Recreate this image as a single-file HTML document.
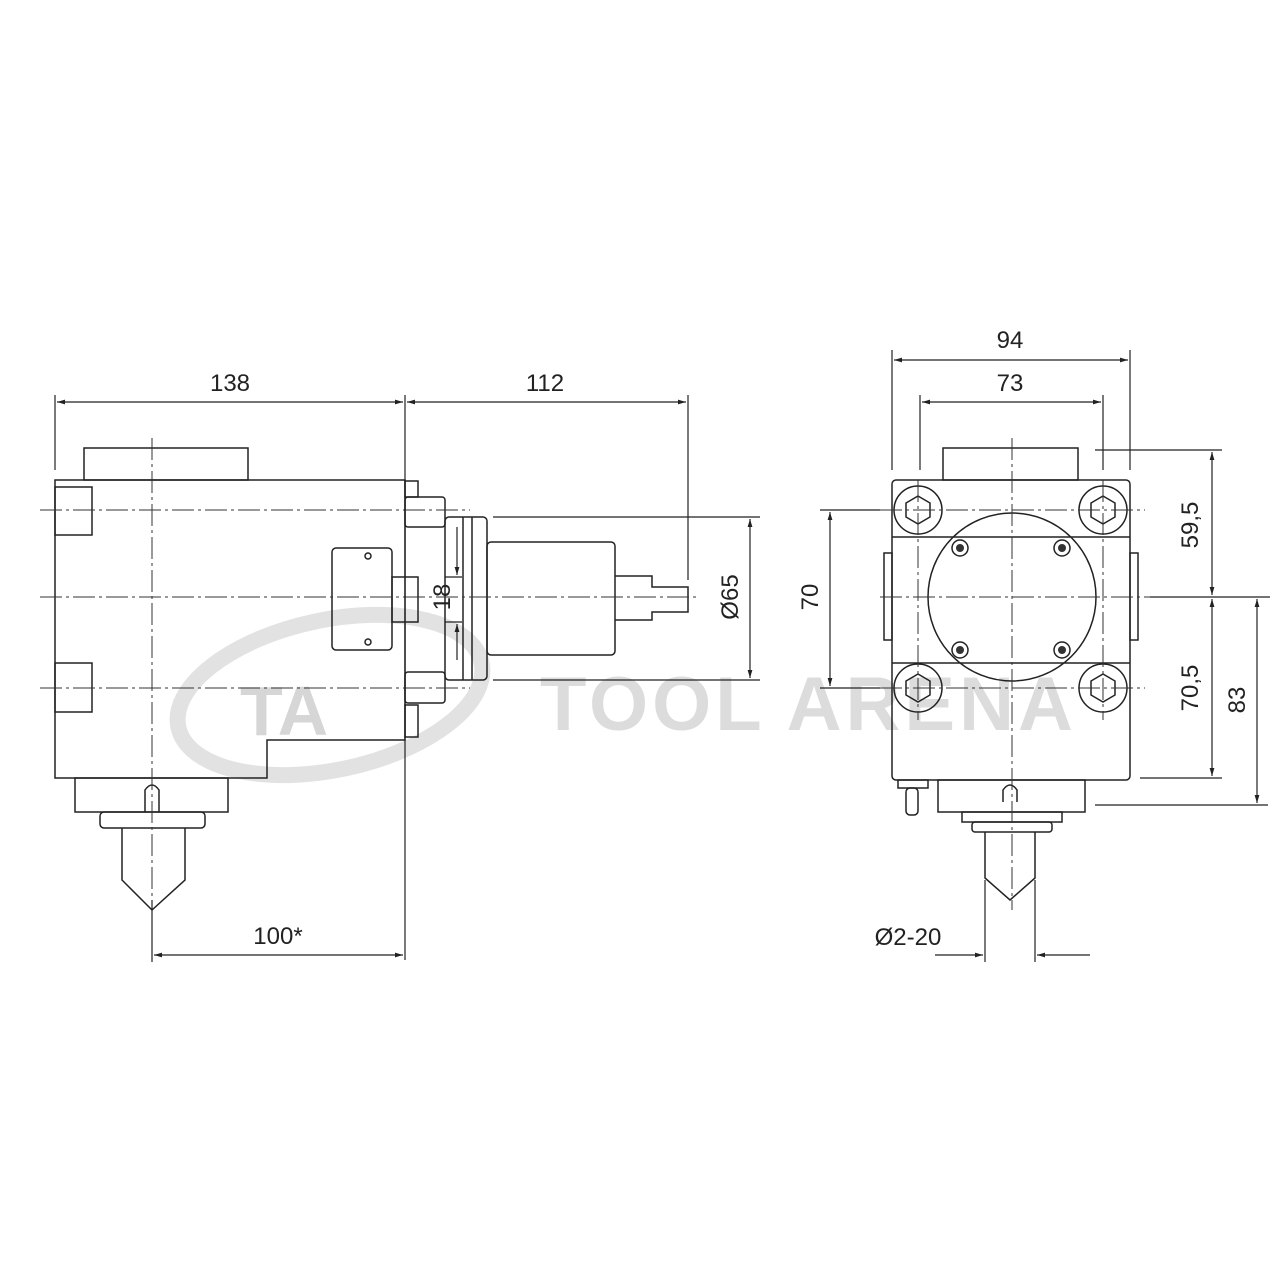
<!DOCTYPE html>
<html><head><style>body{margin:0;background:#fff}svg{display:block}</style></head><body>
<svg width="1280" height="1280" viewBox="0 0 1280 1280" xmlns="http://www.w3.org/2000/svg" font-family="Liberation Sans, sans-serif">
<defs>
<marker id="a" viewBox="0 0 10 10" refX="10" refY="5" markerWidth="12" markerHeight="8" orient="auto-start-reverse" markerUnits="userSpaceOnUse"><path d="M0,2 L10,5 L0,8z" fill="#222"/></marker>
</defs>
<!-- watermark -->
<g>
<ellipse cx="330" cy="695" rx="155" ry="75" fill="none" stroke="#e2e2e2" stroke-width="16" transform="rotate(-12 330 695)"/>
<text x="240" y="735" font-size="70" font-weight="bold" fill="#d6d6d6">TA</text>
<text x="540" y="730" font-size="76" font-weight="bold" fill="#dcdcdc" letter-spacing="4">TOOL ARENA</text>
</g>
<g fill="none" stroke="#222" stroke-width="1.5">
<!-- LEFT VIEW -->
<rect x="84" y="448" width="164" height="32"/>
<path d="M55,480 H405 V740 H267 V778 H55 Z"/>
<rect x="55" y="487" width="37" height="48"/><rect x="55" y="663" width="37" height="49"/>
<rect x="405" y="481" width="13" height="16"/><rect x="405" y="497" width="40" height="30" rx="3"/>
<rect x="405" y="672" width="40" height="31" rx="3"/><rect x="405" y="705" width="13" height="32"/>
<rect x="332" y="548" width="60" height="102" rx="4"/><rect x="392" y="577" width="26" height="45"/>
<circle cx="368" cy="556" r="3"/><circle cx="368" cy="642" r="3"/>
<rect x="445" y="517" width="42" height="163" rx="4"/><line x1="463" y1="517" x2="463" y2="680"/><line x1="472" y1="517" x2="472" y2="680"/>
<rect x="487" y="542" width="128" height="113" rx="4"/>
<path d="M615,576 H652 V587 H688 V612 H652 V620 H615"/>
<rect x="75" y="778" width="153" height="34"/><rect x="100" y="812" width="105" height="16" rx="4"/>
<path d="M122,828 V880 L152,910 L185,880 V828"/>
<path d="M145,812 V790 Q152,780 159,790 V812"/>
<!-- RIGHT VIEW -->
<rect x="943" y="448" width="135" height="32"/>
<rect x="892" y="480" width="238" height="300" rx="4"/>
<rect x="884" y="553" width="8" height="87"/><rect x="1130" y="553" width="8" height="87"/>
<line x1="892" y1="537" x2="1130" y2="537"/><line x1="892" y1="663" x2="1130" y2="663"/>
<circle cx="918" cy="510" r="24"/><circle cx="1103" cy="510" r="24"/><circle cx="918" cy="688" r="24"/><circle cx="1103" cy="688" r="24"/>
<path d="M918,496 l12,7 v14 l-12,7 l-12,-7 v-14z"/><path d="M1103,496 l12,7 v14 l-12,7 l-12,-7 v-14z"/>
<path d="M918,674 l12,7 v14 l-12,7 l-12,-7 v-14z"/><path d="M1103,674 l12,7 v14 l-12,7 l-12,-7 v-14z"/>
<circle cx="1012" cy="597" r="84"/>
<circle cx="960" cy="548" r="8"/><circle cx="1062" cy="548" r="8"/><circle cx="960" cy="650" r="8"/><circle cx="1062" cy="650" r="8"/>
<rect x="938" y="780" width="147" height="32"/><rect x="962" y="812" width="100" height="10"/><rect x="972" y="822" width="80" height="10" rx="3"/>
<path d="M985,832 V878 L1010,900 L1035,878 V832"/>
<path d="M1003,802 V790 Q1010,780 1017,790 V802"/>
<rect x="898" y="780" width="30" height="8"/><rect x="906" y="788" width="12" height="27" rx="4"/>
</g>
<g fill="#333"><circle cx="960" cy="548" r="4"/><circle cx="1062" cy="548" r="4"/><circle cx="960" cy="650" r="4"/><circle cx="1062" cy="650" r="4"/></g>
<!-- centerlines -->
<g stroke="#333" stroke-width="1" stroke-dasharray="22,4,3,4" fill="none">
<line x1="40" y1="510" x2="470" y2="510"/><line x1="40" y1="597" x2="700" y2="597"/><line x1="40" y1="688" x2="470" y2="688"/>
<line x1="152" y1="438" x2="152" y2="920"/>
<line x1="1012" y1="438" x2="1012" y2="910"/>
<line x1="880" y1="597" x2="1150" y2="597"/><line x1="880" y1="510" x2="1145" y2="510"/><line x1="880" y1="688" x2="1145" y2="688"/>
<line x1="918" y1="480" x2="918" y2="720"/><line x1="1103" y1="480" x2="1103" y2="720"/>
</g>
<!-- dimensions -->
<g stroke="#222" stroke-width="1.2" fill="none">
<line x1="55" y1="395" x2="55" y2="470"/><line x1="405" y1="395" x2="405" y2="960"/><line x1="688" y1="395" x2="688" y2="580"/>
<line x1="57" y1="402" x2="403" y2="402" marker-start="url(#a)" marker-end="url(#a)"/>
<line x1="407" y1="402" x2="686" y2="402" marker-start="url(#a)" marker-end="url(#a)"/>
<line x1="493" y1="517" x2="760" y2="517"/><line x1="493" y1="680" x2="760" y2="680"/>
<line x1="750" y1="519" x2="750" y2="678" marker-start="url(#a)" marker-end="url(#a)"/>
<line x1="445" y1="577" x2="462" y2="577"/><line x1="445" y1="622" x2="462" y2="622"/>
<line x1="457" y1="527" x2="457" y2="575" marker-end="url(#a)"/><line x1="457" y1="660" x2="457" y2="624" marker-end="url(#a)"/>
<line x1="152" y1="900" x2="152" y2="962"/>
<line x1="154" y1="955" x2="403" y2="955" marker-start="url(#a)" marker-end="url(#a)"/>
<line x1="892" y1="350" x2="892" y2="470"/><line x1="1130" y1="350" x2="1130" y2="470"/>
<line x1="920" y1="395" x2="920" y2="470"/><line x1="1103" y1="395" x2="1103" y2="470"/>
<line x1="894" y1="360" x2="1128" y2="360" marker-start="url(#a)" marker-end="url(#a)"/>
<line x1="922" y1="402" x2="1101" y2="402" marker-start="url(#a)" marker-end="url(#a)"/>
<line x1="820" y1="510" x2="880" y2="510"/><line x1="820" y1="688" x2="880" y2="688"/>
<line x1="830" y1="512" x2="830" y2="686" marker-start="url(#a)" marker-end="url(#a)"/>
<line x1="1095" y1="450" x2="1222" y2="450"/><line x1="1150" y1="597" x2="1270" y2="597"/>
<line x1="1140" y1="778" x2="1222" y2="778"/><line x1="1095" y1="805" x2="1268" y2="805"/>
<line x1="1212" y1="452" x2="1212" y2="595" marker-start="url(#a)" marker-end="url(#a)"/>
<line x1="1212" y1="599" x2="1212" y2="776" marker-start="url(#a)" marker-end="url(#a)"/>
<line x1="1257" y1="599" x2="1257" y2="803" marker-start="url(#a)" marker-end="url(#a)"/>
<line x1="985" y1="880" x2="985" y2="962"/><line x1="1035" y1="880" x2="1035" y2="962"/>
<line x1="935" y1="955" x2="983" y2="955" marker-end="url(#a)"/><line x1="1090" y1="955" x2="1037" y2="955" marker-end="url(#a)"/>
</g>
<g fill="#222" font-size="24" text-anchor="middle">
<text x="230" y="391">138</text><text x="545" y="391">112</text>
<text x="278" y="944">100*</text>
<text x="1010" y="348">94</text><text x="1010" y="391">73</text>
<text x="908" y="945">Ø2-20</text>
<text transform="translate(450,597) rotate(-90)">18</text>
<text transform="translate(738,597) rotate(-90)">Ø65</text>
<text transform="translate(818,597) rotate(-90)">70</text>
<text transform="translate(1198,525) rotate(-90)">59,5</text>
<text transform="translate(1198,688) rotate(-90)">70,5</text>
<text transform="translate(1245,700) rotate(-90)">83</text>
</g>
</svg>
</body></html>
